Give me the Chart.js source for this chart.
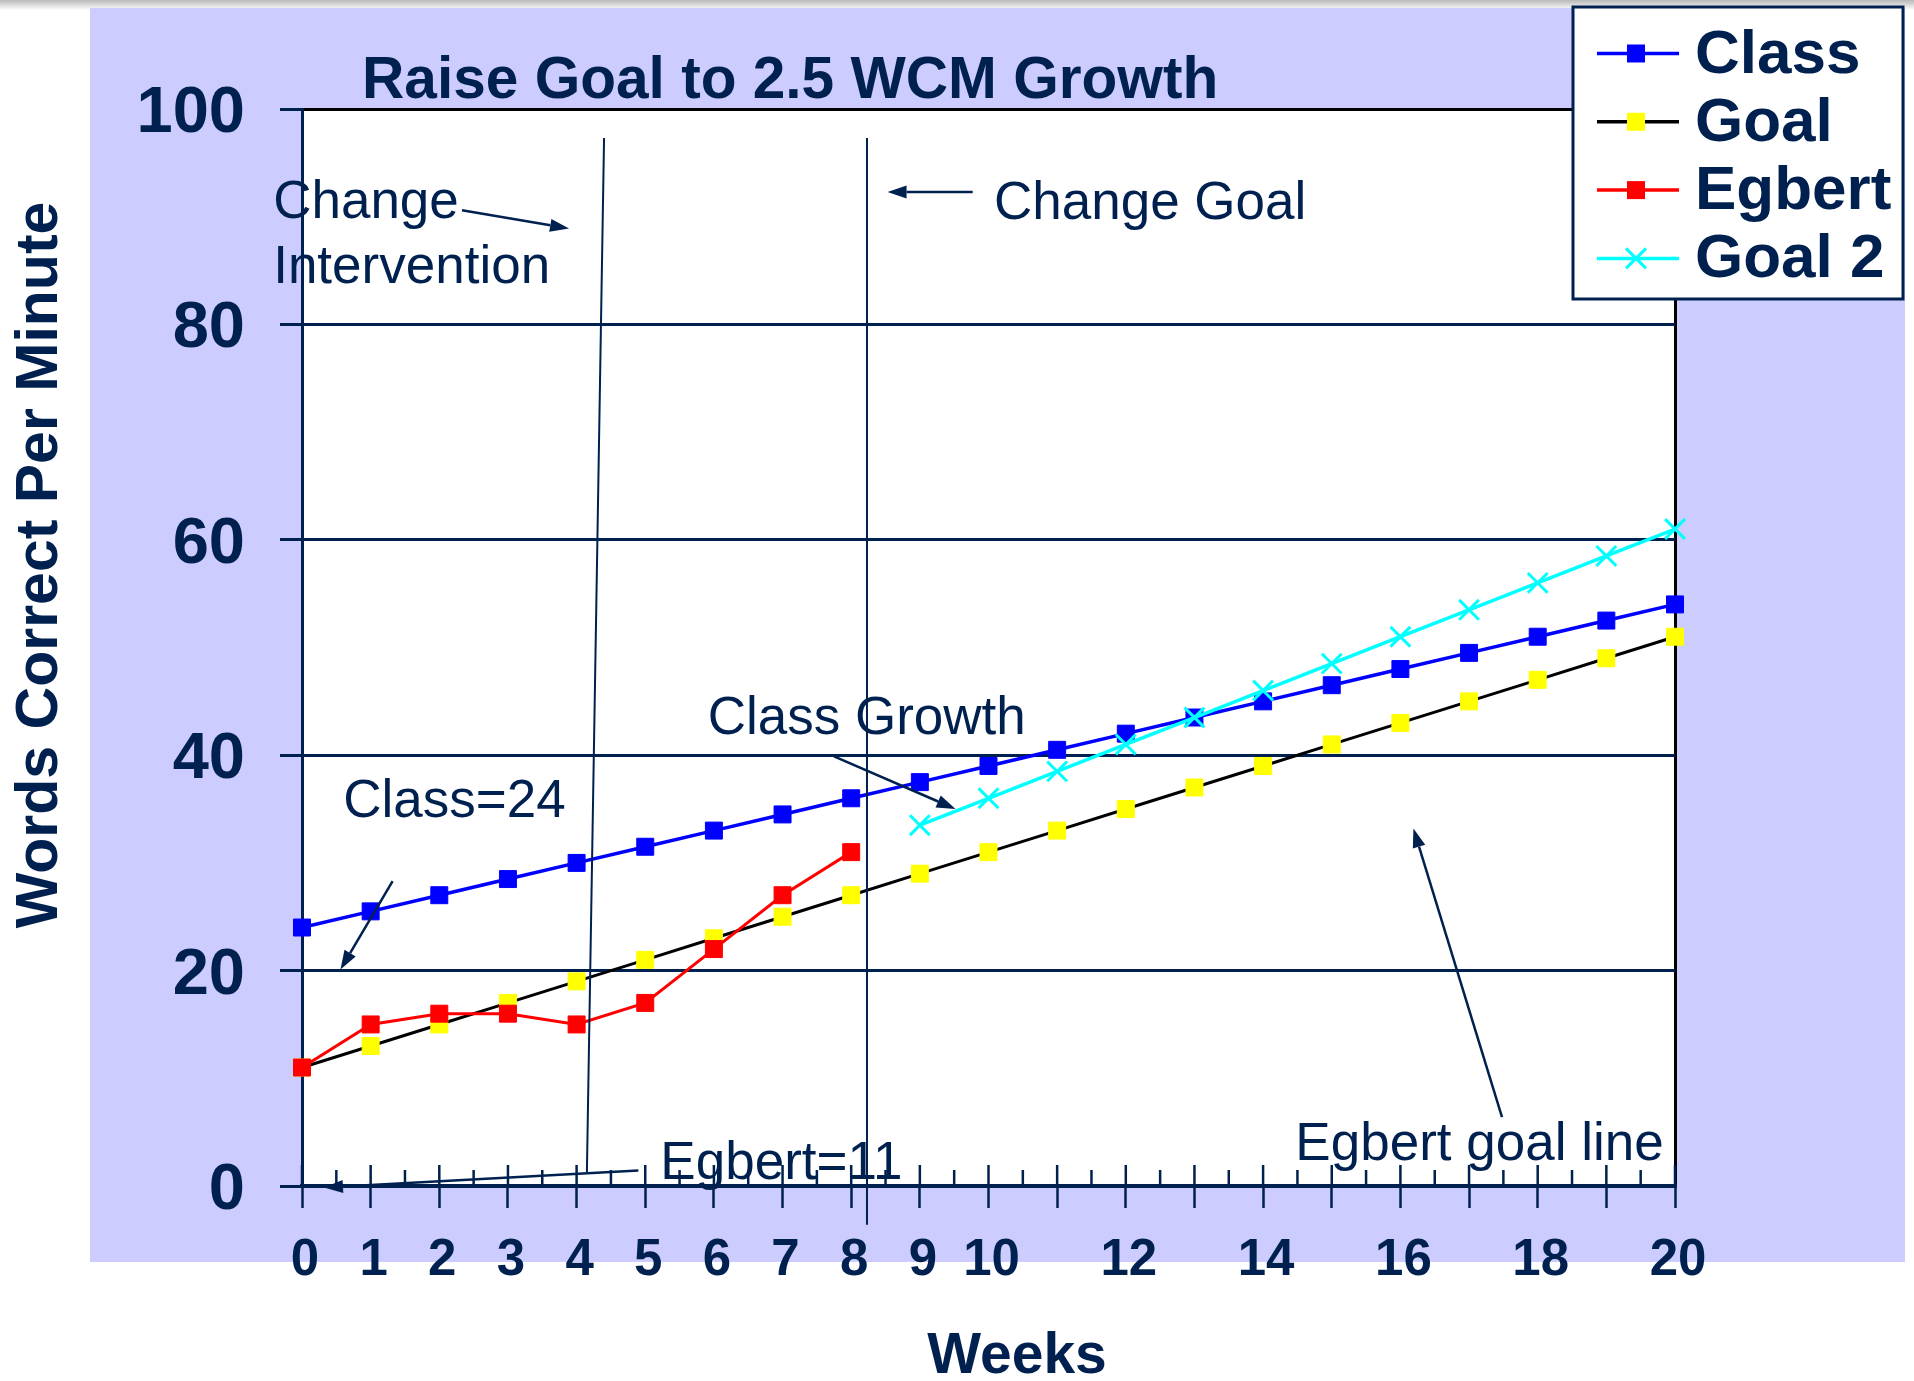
<!DOCTYPE html>
<html>
<head>
<meta charset="utf-8">
<script src="https://cdn.jsdelivr.net/npm/chart.js@4.4.1/dist/chart.umd.min.js"></script>
<style>
html,body{margin:0;padding:0;background:#fff;overflow:hidden}
canvas{display:block}
</style>
</head>
<body>
<canvas id="c" width="1914" height="1381"></canvas>
<script>
// ---------- data ----------
const chartTitle = 'Raise Goal to 2.5 WCM Growth';
const xAxisTitle = 'Weeks';
const yAxisTitle = 'Words Correct Per Minute';
const seriesNames = ['Class', 'Goal', 'Egbert', 'Goal 2'];

const weeks = [0, 1, 2, 3, 4, 5, 6, 7, 8, 9, 10, 11, 12, 13, 14, 15, 16, 17, 18, 19, 20];
const xTickLabels = ['0', '1', '2', '3', '4', '5', '6', '7', '8', '9', '10', '', '12', '', '14', '', '16', '', '18', '', '20'];
const yTickValues = [0, 20, 40, 60, 80, 100];

const classWCM = [24, 25.5, 27, 28.5, 30, 31.5, 33, 34.5, 36, 37.5, 39, 40.5, 42, 43.5, 45, 46.5, 48, 49.5, 51, 52.5, 54];
const goalWCM = [11, 13, 15, 17, 19, 21, 23, 25, 27, 29, 31, 33, 35, 37, 39, 41, 43, 45, 47, 49, 51];
const egbertWeeks = [0, 1, 2, 3, 4, 5, 6, 7, 8];
const egbertWCM = [11, 15, 16, 16, 15, 17, 22, 27, 31];
const goal2Weeks = [9, 10, 11, 12, 13, 14, 15, 16, 17, 18, 19, 20];
const goal2WCM = [33.5, 36, 38.5, 41, 43.5, 46, 48.5, 51, 53.5, 56, 58.5, 61];

// annotations (anchored in data units: week, WCM)
const noteTexts = ['Change', 'Intervention', 'Change Goal', 'Class=24', 'Class Growth', 'Egbert=11', 'Egbert goal line'];
const noteWeek = [-0.42, -0.42, 10.08, 0.60, 5.91, 5.22, 14.47];
const noteWCM = [89.9, 83.8, 89.8, 34.3, 42.0, 0.65, 2.4];
const arrowStart = [[2.33, 90.6], [9.77, 92.3], [1.32, 28.3], [7.75, 39.9], [17.48, 6.4], [4.9, 1.45]];
const arrowEnd = [[3.89, 88.9], [8.53, 92.3], [0.56, 20.1], [9.52, 35.0], [16.19, 33.2], [0.32, -0.15]];
const phaseLineStart = [[4.40, 97.3], [8.23, 97.3]];
const phaseLineEnd = [[4.15, 1.3], [8.23, -3.6]];

// ---------- styles ----------
const NAVY = '#00214f';
const FONT = '"Liberation Sans", Arial, Helvetica, sans-serif';

function xy(xs, ys) { return xs.map((x, i) => ({x: x, y: ys[i]})); }

function seg(ctx, x1, y1, x2, y2) { ctx.beginPath(); ctx.moveTo(x1, y1); ctx.lineTo(x2, y2); ctx.stroke(); }

function arrow(ctx, x1, y1, x2, y2, head, wid) {
  const a = Math.atan2(y2 - y1, x2 - x1);
  const bx = x2 - head * Math.cos(a), by = y2 - head * Math.sin(a);
  seg(ctx, x1, y1, bx, by);
  ctx.beginPath();
  ctx.moveTo(x2, y2);
  ctx.lineTo(bx + wid / 2 * Math.sin(a), by - wid / 2 * Math.cos(a));
  ctx.lineTo(bx - wid / 2 * Math.sin(a), by + wid / 2 * Math.cos(a));
  ctx.closePath();
  ctx.fill();
}

const decor = {
  id: 'decor',
  beforeDraw(chart) {
    const ctx = chart.ctx, a = chart.chartArea;
    ctx.save();
    ctx.fillStyle = '#ffffff';
    ctx.fillRect(0, 0, chart.width, chart.height);
    const g = ctx.createLinearGradient(0, 0, 0, 10);
    g.addColorStop(0, '#b8b8b8');
    g.addColorStop(1, '#ffffff');
    ctx.fillStyle = g;
    ctx.fillRect(0, 0, chart.width, 10);
    ctx.fillStyle = '#ccccff';
    ctx.fillRect(90, 8, 1905 - 90, 1262 - 8);
    ctx.fillStyle = '#ffffff';
    ctx.fillRect(a.left, a.top, a.right - a.left, a.bottom - a.top);
    ctx.restore();
  },
  beforeDatasetsDraw(chart) {
    // ruler marks above the week axis
    const ctx = chart.ctx, xs = chart.scales.x, y0 = chart.scales.y.getPixelForValue(0);
    ctx.save();
    ctx.strokeStyle = NAVY;
    ctx.lineWidth = 2.5;
    weeks.forEach(w => { const px = xs.getPixelForValue(w); seg(ctx, px, y0 - 21, px, y0); });
    for (let i = 0; i < weeks.length - 1; i++) {
      const px = xs.getPixelForValue((weeks[i] + weeks[i + 1]) / 2);
      seg(ctx, px, y0 - 16, px, y0);
    }
    ctx.restore();
  },
  afterDatasetsDraw(chart) {
    const ctx = chart.ctx, xs = chart.scales.x, ys = chart.scales.y;
    const X = v => xs.getPixelForValue(v), Y = v => ys.getPixelForValue(v);
    ctx.save();
    ctx.strokeStyle = NAVY;
    ctx.fillStyle = NAVY;
    ctx.lineWidth = 2;
    phaseLineStart.forEach((p, i) => {
      const q = phaseLineEnd[i];
      seg(ctx, X(p[0]), Y(p[1]), X(q[0]), Y(q[1]));
    });
    ctx.lineWidth = 2.5;
    arrowStart.forEach((p, i) => {
      const q = arrowEnd[i];
      arrow(ctx, X(p[0]), Y(p[1]), X(q[0]), Y(q[1]), 19, 13);
    });
    ctx.font = '53px ' + FONT;
    ctx.textAlign = 'left';
    ctx.textBaseline = 'alphabetic';
    noteTexts.forEach((t, i) => ctx.fillText(t, X(noteWeek[i]), Y(noteWCM[i])));
    ctx.restore();
  },
  afterDraw(chart) {
    const ctx = chart.ctx;
    ctx.save();
    ctx.fillStyle = NAVY;
    // chart title
    ctx.font = 'bold 58.6px ' + FONT;
    ctx.textAlign = 'left';
    ctx.textBaseline = 'alphabetic';
    ctx.fillText(chartTitle, 362, 98);
    // x title
    ctx.font = 'bold 57px ' + FONT;
    ctx.textAlign = 'center';
    ctx.fillText(xAxisTitle, 1017, 1373);
    // y title
    ctx.save();
    ctx.translate(57, 565);
    ctx.rotate(-Math.PI / 2);
    ctx.font = 'bold 59px ' + FONT;
    ctx.textAlign = 'center';
    ctx.fillText(yAxisTitle, 0, 0);
    ctx.restore();

    // legend
    const bx = 1573, by = 7, bw = 1903 - 1573, bh = 299 - 7;
    ctx.fillStyle = '#ffffff';
    ctx.fillRect(bx, by, bw, bh);
    ctx.strokeStyle = NAVY;
    ctx.lineWidth = 3;
    ctx.strokeRect(bx, by, bw, bh);
    chart.data.datasets.forEach((ds, i) => {
      const cy = 53.5 + i * 68.3;
      ctx.strokeStyle = ds.borderColor;
      ctx.lineWidth = 3.5;
      seg(ctx, 1597, cy, 1679, cy);
      const mx = 1636;
      if (ds.pointStyle === 'crossRot') {
        ctx.strokeStyle = ds.pointBorderColor;
        ctx.lineWidth = 3;
        const r = 10;
        seg(ctx, mx - r, cy - r, mx + r, cy + r);
        seg(ctx, mx - r, cy + r, mx + r, cy - r);
      } else {
        ctx.fillStyle = ds.pointBackgroundColor;
        ctx.fillRect(mx - 9, cy - 9, 18, 18);
      }
      ctx.fillStyle = NAVY;
      ctx.font = 'bold 62px ' + FONT;
      ctx.textAlign = 'left';
      ctx.textBaseline = 'middle';
      ctx.fillText(ds.label, 1695, cy + 2);
    });
    ctx.restore();
  }
};

const chart = new Chart(document.getElementById('c'), {
  type: 'line',
  data: {
    datasets: [
      {
        label: seriesNames[0], data: xy(weeks, classWCM),
        borderColor: '#0000ff', backgroundColor: '#0000ff', borderWidth: 3.5,
        pointStyle: 'rect', pointRadius: 12, pointBackgroundColor: '#0000ff', pointBorderColor: '#0000ff', pointBorderWidth: 1,
        order: 3, clip: false, tension: 0
      },
      {
        label: seriesNames[1], data: xy(weeks, goalWCM),
        borderColor: '#000000', backgroundColor: '#ffff00', borderWidth: 3,
        pointStyle: 'rect', pointRadius: 12, pointBackgroundColor: '#ffff00', pointBorderColor: '#ffff00', pointBorderWidth: 1,
        order: 2, clip: false, tension: 0
      },
      {
        label: seriesNames[2], data: xy(egbertWeeks, egbertWCM),
        borderColor: '#ff0000', backgroundColor: '#ff0000', borderWidth: 3,
        pointStyle: 'rect', pointRadius: 12, pointBackgroundColor: '#ff0000', pointBorderColor: '#ff0000', pointBorderWidth: 1,
        order: 1, clip: false, tension: 0
      },
      {
        label: seriesNames[3], data: xy(goal2Weeks, goal2WCM),
        borderColor: '#00ffff', backgroundColor: '#00ffff', borderWidth: 3.5,
        pointStyle: 'crossRot', pointRadius: 14, pointBackgroundColor: '#00ffff', pointBorderColor: '#00ffff', pointBorderWidth: 3,
        order: 0, clip: false, tension: 0
      }
    ]
  },
  options: {
    responsive: false,
    animation: false,
    devicePixelRatio: 1,
    layout: {padding: {top: 109, right: 239, left: 0, bottom: 0}},
    plugins: {legend: {display: false}, tooltip: {enabled: false}, title: {display: false}},
    scales: {
      x: {
        type: 'linear', position: 'bottom', min: weeks[0], max: weeks[weeks.length - 1],
        afterFit(s) { s.height = 195; },
        ticks: {
          stepSize: 1, autoSkip: false, maxRotation: 0, minRotation: 0, padding: 22, labelOffset: 3,
          color: NAVY, font: {family: FONT, size: 51, weight: 'bold'},
          callback: (v) => { const i = weeks.indexOf(v); return i >= 0 ? xTickLabels[i] : ''; }
        },
        grid: {
          display: true, drawOnChartArea: true, drawTicks: true,
          color: (c) => (c.tick && c.tick.value === weeks[weeks.length - 1]) ? '#000000' : 'rgba(0,0,0,0)',
          lineWidth: 3, tickColor: NAVY, tickWidth: 2.5, tickLength: 22
        },
        border: {display: true, color: NAVY, width: 4}
      },
      y: {
        type: 'linear', position: 'left', min: yTickValues[0], max: yTickValues[yTickValues.length - 1],
        afterFit(s) { s.width = 302; },
        ticks: {stepSize: 20, padding: 35, labelOffset: 5, color: NAVY, font: {family: FONT, size: 65, weight: 'bold'}},
        grid: {
          color: (c) => (c.tick && c.tick.value === yTickValues[yTickValues.length - 1]) ? '#000000' : NAVY,
          lineWidth: 3, tickColor: NAVY, tickWidth: 3, tickLength: 22
        },
        border: {display: true, color: NAVY, width: 3}
      }
    }
  },
  plugins: [decor]
});
</script>
</body>
</html>
